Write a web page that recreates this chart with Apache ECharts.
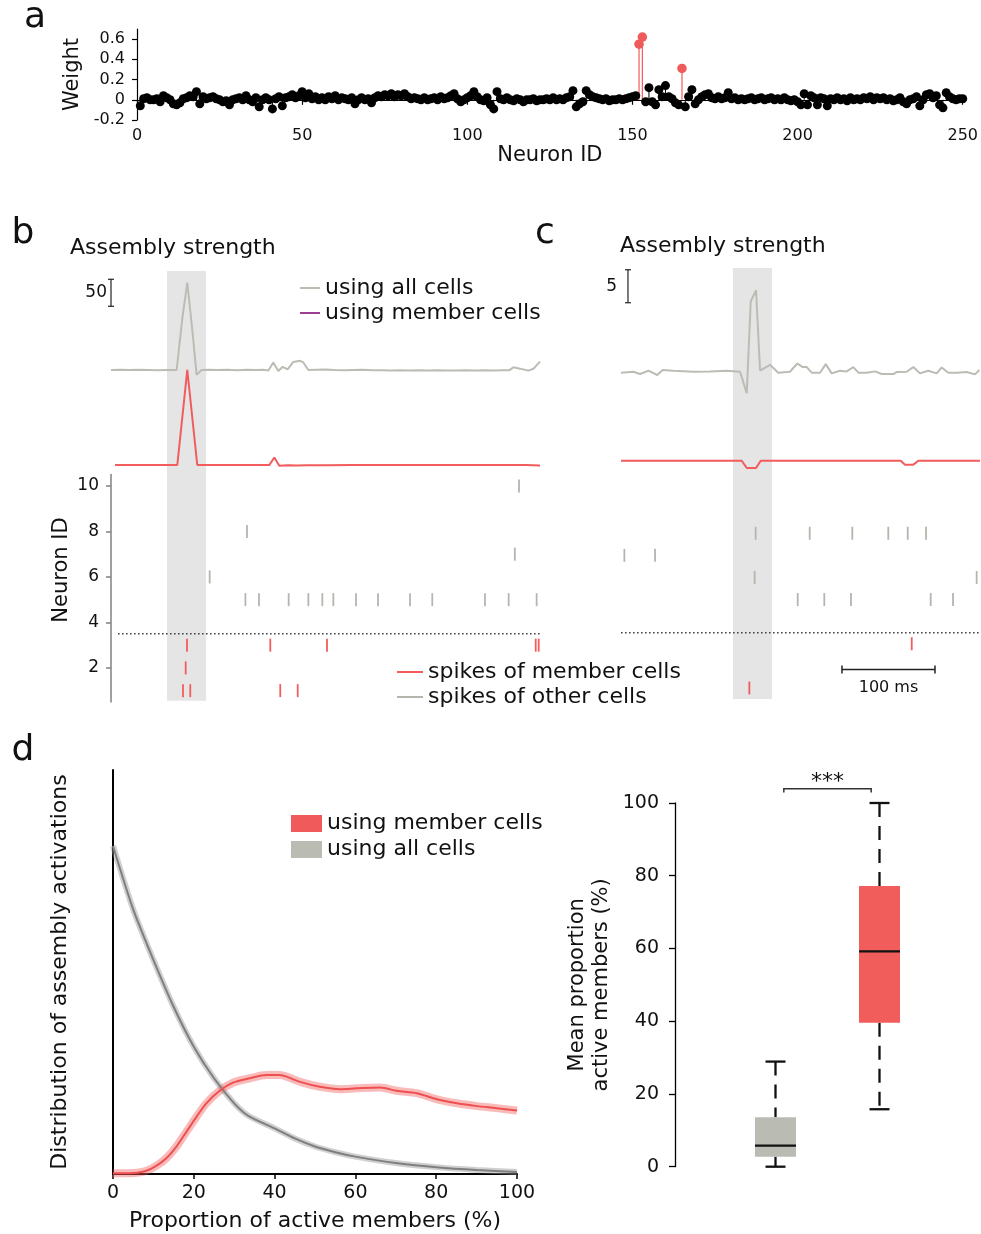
<!DOCTYPE html>
<html><head><meta charset="utf-8">
<script src="https://cdn.jsdelivr.net/npm/echarts@6/dist/echarts.min.js"></script>
<style>html,body{margin:0;padding:0;background:#fff}#c{width:981px;height:1234px}</style>
</head><body><div id="c"></div><script>
// ---------- DATA ----------
// Panel a: assembly weights for neurons 1..250
const neuronWeights = [
-0.06,0.01,0.02,0.0,0.0,0.01,-0.02,0.04,0.02,0.0,
-0.04,-0.05,-0.03,0.01,0.02,0.04,0.03,0.08,-0.04,0.03,
0.01,0.02,0.03,0.01,0.0,-0.02,-0.01,-0.05,0.0,0.01,
0.02,0.0,0.04,0.0,-0.02,0.02,-0.07,0.0,0.02,0.0,
-0.09,0.01,0.03,-0.06,0.02,0.03,0.05,0.02,0.04,0.08,
0.02,0.06,0.01,0.03,0.0,0.02,0.0,0.03,0.01,0.04,
0.0,0.02,0.01,0.0,0.02,-0.04,0.0,0.02,0.0,0.01,
-0.03,0.02,0.04,0.03,0.05,0.04,0.06,0.03,0.05,0.04,
0.06,0.03,0.01,0.02,0.01,0.0,0.02,0.0,0.01,0.02,
0.0,0.03,0.01,0.02,0.04,0.06,0.01,-0.02,0.0,0.02,
0.04,0.08,0.03,0.0,-0.01,0.02,-0.05,-0.09,0.08,0.01,
0.0,0.02,0.0,-0.01,0.01,0.0,-0.02,0.0,0.0,0.01,
-0.01,0.0,0.0,0.01,0.0,0.02,0.0,0.01,0.0,0.02,
0.03,0.09,-0.07,-0.04,-0.02,0.09,0.05,0.03,0.02,0.01,
0.0,0.01,-0.01,0.0,0.0,0.01,0.0,0.01,0.02,0.03,
0.04,0.55,0.62,-0.02,0.12,-0.02,-0.05,0.1,0.03,0.14,
0.03,0.01,-0.03,-0.05,0.31,-0.07,0.03,0.1,-0.04,0.0,
0.03,0.05,0.06,0.02,0.01,0.03,0.01,0.02,0.07,0.01,
0.02,0.0,0.01,0.0,0.01,0.02,0.0,0.01,0.02,0.0,
0.01,0.02,0.0,0.01,0.0,0.02,0.0,-0.01,0.0,-0.02,
-0.05,0.06,-0.05,0.04,0.02,-0.05,0.02,0.01,-0.06,0.01,
0.0,0.02,0.0,0.01,-0.01,0.02,0.0,0.01,0.0,0.02,
0.01,0.03,0.0,0.02,0.01,0.02,0.0,0.01,-0.01,0.0,
0.02,-0.02,-0.04,0.0,0.01,0.03,-0.06,0.0,0.05,0.06,
0.02,0.04,-0.05,-0.08,0.07,0.03,0.01,0.0,0.01,0.01
];
const memberNeurons = [152, 153, 165];
const weightTicks = [-0.2, 0, 0.2, 0.4, 0.6];

// Panel b: assembly strength traces (time ms, strength)
const bAllCells = [[0,0],[10,0.4],[20,-0.2],[30,0.3],[40,0],[50,-0.3],[60,0.2],[70.4,0],[76.5,96],[81.8,162],[87.2,74],[91.8,-9],[97.2,0],[105,0.5],[115,0],[125,0.6],[135,-0.3],[145,0.4],[155,0],[163,0.3],[168.7,-1],[174,14],[179.4,-2],[184.1,6],[189.4,1],[195.5,15],[202.7,17],[206.2,14],[211.6,0],[220,0.5],[230,1],[240,0],[250,-0.5],[260,0],[270,0.4],[280,-0.6],[290,-0.4],[300,-0.8],[310,-0.5],[320,-1],[330,-0.6],[340,-0.9],[350,-0.3],[360,-0.8],[370,-1],[380,-0.5],[390,-0.8],[400,-0.3],[410,-0.9],[420,-0.5],[427,-0.6],[431.4,4.9],[438.6,2.5],[447.5,-1.2],[452.9,2.2],[460,15.4]];
const bMemberCells = [[4.3,0],[30,0],[60,0],[71.1,0],[81.8,176],[92.5,0],[120,0],[150,0],[169.8,0],[175.1,14],[180.5,-1.2],[190,-0.6],[200,-1],[210,-0.6],[230,-0.3],[260,0],[300,0],[340,0],[380,0],[420,0],[445,0],[460,-1]];
const bSpikesOther = [[437.5,10],[145.8,8],[433,7],[105.8,6],[144.1,5],[158.7,5],[190.5,5],[211.6,5],[226.6,5],[238.4,5],[262.7,5],[286.3,5],[320.6,5],[344.5,5],[401,5],[426.4,5],[456.4,5]];
const bSpikesMember = [[81.5,3],[170.8,3],[231.6,3],[455.4,3],[458.6,3],[80.1,2],[77.2,1],[85,1],[181.5,1],[200.2,1]];
const bWindow = [60, 102];
const bScale = 50;

// Panel c
const cAllCells = [[0,0],[13.3,0.15],[20.4,-0.2],[29.4,0.3],[39,-0.35],[44.8,0.4],[56.3,0.3],[77.8,0.15],[95.7,0.2],[113.6,0.3],[128,0.15],[135.2,-3.1],[139.5,10.8],[145.2,12.5],[149.5,0.3],[160.2,1.2],[169.1,0],[181.7,0.15],[189.6,1.4],[195.4,0.85],[199.7,0.85],[205,0],[214,0],[220.1,1.3],[226.5,-0.1],[235.5,0.3],[242.7,0.2],[249.8,0.85],[255.2,0],[264.2,0],[273.1,0.2],[280.3,-0.2],[292.8,-0.2],[296.4,0.1],[307.1,0.15],[314.3,0.85],[321.5,-0.1],[330.4,0.3],[339.4,-0.1],[344.8,0.8],[351.9,0],[360.9,0],[371.7,0.1],[380.6,-0.25],[385.3,0.4]];
const cMemberCells = [[0,0],[60,0],[129.8,0],[135.2,-1.1],[145.2,-1.1],[150.2,0],[220,0],[300.8,0],[305.4,-0.6],[314.3,-0.6],[319.7,0],[386,0]];
const cSpikesOther = [[144.8,8],[202.9,8],[248.7,8],[287.4,8],[308.3,8],[328,8],[3.6,7],[36.6,7],[143.7,6],[382.4,6],[190,5],[218.6,5],[247.3,5],[333,5],[357,5]];
const cSpikesMember = [[312.6,3],[138,1]];
const cWindow = [120.4, 162.4];
const cScale = 5;
const timeScale = 100;
const rasterTicks = [2, 4, 6, 8, 10];
const memberBoundary = 3.5;

// Panel d left: distribution of proportion of active members
const dAllCells = [[0,0.812],[5,0.655],[10,0.530],[15,0.414],[20,0.315],[25,0.237],[30,0.175],[33.5,0.144],[40,0.113],[45,0.088],[50,0.068],[55,0.054],[60,0.043],[70,0.027],[80,0.017],[90,0.010],[100,0.005]];
const dMemberCells = [[0,0.002],[4,0.002],[6,0.003],[8.3,0.008],[10.7,0.020],[13.2,0.039],[15.7,0.068],[18.2,0.105],[20.7,0.142],[23.1,0.175],[26.4,0.206],[29.7,0.226],[33.9,0.237],[38,0.245],[41.3,0.245],[43,0.241],[46.3,0.228],[51.2,0.216],[56.2,0.210],[60.3,0.212],[66.1,0.214],[70.2,0.206],[75.2,0.200],[80.2,0.185],[85.1,0.175],[90.1,0.168],[95,0.163],[100,0.157]];
const proportionTicks = [0, 20, 40, 60, 80, 100];

// Panel d right: boxplot [min, q1, median, q3, max]
const boxGroups = ['using all cells', 'using member cells'];
const boxStats = [[0, 2.75, 5.8, 13.6, 28.9], [15.8, 39.6, 59.2, 77.2, 100]];
const significance = '***';

// ---------- STYLE ----------
const FONT = 'DejaVu Sans';
const RED = '#f25c5c', GRAY = '#bcbcb5', SPIKE_GRAY = '#b5b5ae', BOX_GRAY = '#babcb4', PURPLE = '#9c3d97';

const chart = echarts.init(document.getElementById('c'), null, {renderer: 'canvas'});

function hidden(gridIndex, min, max) {
  return {gridIndex, type: 'value', min, max, show: false, splitLine: {show: false}};
}
function scaleBarRenderer(gap, label) {
  return function (params, api) {
    const a = api.coord([api.value(0), api.value(1)]);
    const b = api.coord([api.value(0), api.value(2)]);
    const st = {stroke: '#222', lineWidth: 1.2};
    return {type: 'group', children: [
      {type: 'line', shape: {x1: a[0], y1: a[1], x2: b[0], y2: b[1]}, style: st},
      {type: 'line', shape: {x1: a[0] - 3, y1: a[1], x2: a[0] + 3, y2: a[1]}, style: st},
      {type: 'line', shape: {x1: b[0] - 3, y1: b[1], x2: b[0] + 3, y2: b[1]}, style: st},
      {type: 'text', x: a[0] - gap, y: (a[1] + b[1]) / 2, style: {text: label, fontSize: 17, fontFamily: FONT, fill: '#111', align: 'right', verticalAlign: 'middle'}}
    ]};
  };
}
function shadeRenderer(params, api) {
  const p0 = api.coord([api.value(0), api.value(3)]);
  const p1 = api.coord([api.value(1), api.value(2)]);
  return {type: 'rect', shape: {x: p0[0], y: p0[1], width: p1[0] - p0[0], height: p1[1] - p0[1]}, style: {fill: '#e5e5e5'}};
}

const nonMembers = [], members = [];
neuronWeights.forEach((v, i) => {
  const id = i + 1;
  (memberNeurons.includes(id) ? members : nonMembers).push([id, v]);
});

const boxData = boxStats.map((s, i) => [i + 1, ...s]);
const boxColors = [BOX_GRAY, '#f15d5a'];
const legendText = {fontSize: 22, lineHeight: 24, color: '#111', fontFamily: FONT};

const option = {
  animation: false,
  textStyle: {fontFamily: FONT, color: '#111'},
  title: [
    {text: 'Assembly strength', left: 70, top: 237, padding: 0, textStyle: {fontSize: 22, fontWeight: 'normal', color: '#111', fontFamily: FONT}},
    {text: 'Assembly strength', left: 620, top: 235, padding: 0, textStyle: {fontSize: 22, fontWeight: 'normal', color: '#111', fontFamily: FONT}}
  ],
  graphic: [
    {type: 'text', x: 35, y: 18, style: {text: 'a', fontSize: 36, fontFamily: FONT, fill: '#111', align: 'center', verticalAlign: 'middle'}},
    {type: 'text', x: 23, y: 234, style: {text: 'b', fontSize: 36, fontFamily: FONT, fill: '#111', align: 'center', verticalAlign: 'middle'}},
    {type: 'text', x: 545, y: 234, style: {text: 'c', fontSize: 36, fontFamily: FONT, fill: '#111', align: 'center', verticalAlign: 'middle'}},
    {type: 'text', x: 23, y: 751, style: {text: 'd', fontSize: 36, fontFamily: FONT, fill: '#111', align: 'center', verticalAlign: 'middle'}},
    {type: 'text', x: 62, y: 570, rotation: Math.PI / 2, style: {text: 'Neuron ID', fontSize: 21, fontFamily: FONT, fill: '#111', align: 'center', verticalAlign: 'middle'}}
  ],
  legend: [
    {left: 300, top: 276, padding: 0, orient: 'vertical', itemWidth: 20, itemHeight: 2, itemGap: 1, selectedMode: false,
     textStyle: legendText,
     data: [
       {name: 'using all cells', icon: 'rect', itemStyle: {color: GRAY, borderWidth: 0, borderColor: GRAY}},
       {name: 'using member cells', icon: 'rect', itemStyle: {color: PURPLE, borderWidth: 0, borderColor: PURPLE}}
     ]},
    {left: 397, top: 660, padding: 0, orient: 'vertical', itemWidth: 26, itemHeight: 2, itemGap: 1, selectedMode: false,
     textStyle: legendText,
     data: [
       {name: 'spikes of member cells', icon: 'rect', itemStyle: {color: RED, borderWidth: 0, borderColor: RED}},
       {name: 'spikes of other cells', icon: 'rect', itemStyle: {color: SPIKE_GRAY, borderWidth: 0, borderColor: SPIKE_GRAY}}
     ]},
    {left: 291, top: 811.5, padding: 0, orient: 'vertical', itemWidth: 31, itemHeight: 17, itemGap: 2, selectedMode: false,
     textStyle: legendText,
     data: [
       {name: 'using member cells', icon: 'rect', itemStyle: {color: '#f05a5a', borderWidth: 0, borderColor: '#f05a5a'}},
       {name: 'using all cells', icon: 'rect', itemStyle: {color: BOX_GRAY, borderWidth: 0, borderColor: BOX_GRAY}}
     ]}
  ],
  grid: [
    {left: 137, top: 29, width: 829, height: 91},          // 0 a
    {left: 111, top: 272.8, width: 429, height: 108},      // 1 b all
    {left: 111, top: 367.8, width: 429, height: 102.6},    // 2 b member
    {left: 111, top: 474.6, width: 429, height: 227.4},    // 3 b raster
    {left: 621, top: 267.1, width: 359, height: 132},      // 4 c all
    {left: 621, top: 440.9, width: 359, height: 39.6},     // 5 c member
    {left: 621, top: 478, width: 359, height: 221},        // 6 c raster
    {left: 113, top: 770, width: 404, height: 404},        // 7 d left
    {left: 671.5, top: 803, width: 291.2, height: 363.7}   // 8 d right
  ],
  xAxis: [
    {gridIndex: 0, type: 'value', min: 0, max: 250, interval: 50, name: 'Neuron ID', nameLocation: 'middle', nameGap: 24,
     nameTextStyle: {fontSize: 21, color: '#111'},
     axisLine: {lineStyle: {color: '#000', width: 1.2}}, axisTick: {length: 5, lineStyle: {color: '#000', width: 1.2}},
     axisLabel: {fontSize: 16, margin: 8, color: '#111'}, splitLine: {show: false}},
    hidden(1, 0, 460), hidden(2, 0, 460), hidden(3, 0, 460),
    hidden(4, 0, 386), hidden(5, 0, 386), hidden(6, 0, 386),
    {gridIndex: 7, type: 'value', min: 0, max: 100, interval: 20, name: 'Proportion of active members (%)', nameLocation: 'middle', nameGap: 36,
     nameTextStyle: {fontSize: 22, color: '#111'},
     axisLine: {lineStyle: {color: '#000', width: 2}}, axisTick: {length: 5, lineStyle: {color: '#000', width: 1.5}},
     axisLabel: {fontSize: 19, margin: 10, color: '#111'}, splitLine: {show: false}},
    hidden(8, 0, 2.8)
  ],
  yAxis: [
    {gridIndex: 0, type: 'value', min: -0.2, max: 0.7, name: 'Weight', nameLocation: 'middle', nameGap: 50,
     nameTextStyle: {fontSize: 21, color: '#111'},
     axisLine: {show: true, lineStyle: {color: '#000', width: 1.2}},
     axisTick: {show: true, length: 5, customValues: weightTicks, lineStyle: {color: '#000', width: 1.2}},
     axisLabel: {fontSize: 16, margin: 12, color: '#111', customValues: weightTicks, formatter: v => String(Math.round(v * 10) / 10)},
     splitLine: {show: false}},
    hidden(1, -20, 180), hidden(2, -10, 180),
    {gridIndex: 3, type: 'value', min: 0.5, max: 10.5,
     axisLine: {show: true, lineStyle: {color: '#808080', width: 1.5}},
     axisTick: {show: true, length: 5, customValues: rasterTicks, lineStyle: {color: '#808080', width: 1.5}},
     axisLabel: {fontSize: 17, margin: 12, color: '#111', customValues: rasterTicks},
     splitLine: {show: false}},
    hidden(4, -4, 16), hidden(5, -3, 3), hidden(6, 0.5, 10.5),
    {gridIndex: 7, type: 'value', min: 0, max: 1, name: 'Distribution of assembly activations', nameLocation: 'middle', nameGap: 42,
     nameTextStyle: {fontSize: 22, color: '#111'},
     axisLine: {show: true, lineStyle: {color: '#000', width: 2}}, axisTick: {show: false}, axisLabel: {show: false}, splitLine: {show: false}},
    {gridIndex: 8, type: 'value', min: 0, max: 100, interval: 20, offset: -3.5,
     name: 'Mean proportion\nactive members (%)', nameLocation: 'middle', nameGap: 61, nameRotate: 90,
     nameTextStyle: {fontSize: 21, lineHeight: 24, color: '#111'},
     axisLine: {show: true, lineStyle: {color: '#000', width: 1.3}}, axisTick: {show: true, length: 6, lineStyle: {color: '#000', width: 1.3}},
     axisLabel: {fontSize: 19, margin: 16, color: '#111'}, splitLine: {show: false}}
  ],
  series: [
    // ---- a ----
    {type: 'custom', xAxisIndex: 0, yAxisIndex: 0, data: nonMembers, z: 2, silent: true,
     renderItem: (p, api) => {
       const a = api.coord([api.value(0), 0]), b = api.coord([api.value(0), api.value(1)]);
       return {type: 'line', shape: {x1: a[0], y1: a[1], x2: b[0], y2: b[1]}, style: {stroke: '#000', lineWidth: 1}};
     }},
    {type: 'custom', xAxisIndex: 0, yAxisIndex: 0, data: members, z: 2, silent: true,
     renderItem: (p, api) => {
       const a = api.coord([api.value(0), 0]), b = api.coord([api.value(0), api.value(1)]);
       return {type: 'line', shape: {x1: a[0], y1: a[1], x2: b[0], y2: b[1]}, style: {stroke: RED, lineWidth: 1.2}};
     }},
    {type: 'scatter', xAxisIndex: 0, yAxisIndex: 0, data: nonMembers, symbolSize: 9, itemStyle: {color: '#000', opacity: 1}, z: 3},
    {type: 'scatter', xAxisIndex: 0, yAxisIndex: 0, data: members, symbolSize: 9.5, itemStyle: {color: '#ef5b5b', opacity: 1}, z: 4},
    // ---- b ----
    {type: 'custom', xAxisIndex: 3, yAxisIndex: 3, data: [[bWindow[0], bWindow[1], 0.55, 19.45]], renderItem: shadeRenderer, z: 0, silent: true},
    {name: 'using all cells', type: 'line', xAxisIndex: 1, yAxisIndex: 1, data: bAllCells, showSymbol: false, symbol: 'none', lineStyle: {color: GRAY, width: 2}, itemStyle: {color: GRAY}, z: 3},
    {name: 'using member cells', type: 'line', xAxisIndex: 2, yAxisIndex: 2, data: bMemberCells, showSymbol: false, symbol: 'none', lineStyle: {color: RED, width: 2}, itemStyle: {color: RED}, z: 3},
    {type: 'custom', xAxisIndex: 1, yAxisIndex: 1, data: [[0, 168 - bScale, 168]], renderItem: scaleBarRenderer(4, String(bScale)), z: 4, silent: true},
    {name: 'spikes of other cells', type: 'scatter', xAxisIndex: 3, yAxisIndex: 3, data: bSpikesOther, symbol: 'rect', symbolSize: [1.8, 13], itemStyle: {color: SPIKE_GRAY, opacity: 1}, z: 3},
    {name: 'spikes of member cells', type: 'scatter', xAxisIndex: 3, yAxisIndex: 3, data: bSpikesMember, symbol: 'rect', symbolSize: [1.8, 13], itemStyle: {color: RED, opacity: 1}, z: 3},
    {type: 'line', xAxisIndex: 3, yAxisIndex: 3, data: [[7.5, memberBoundary], [460, memberBoundary]], symbol: 'none', lineStyle: {color: '#444', width: 1.6, type: [1.6, 2.4]}, z: 3, silent: true},
    // ---- c ----
    {type: 'custom', xAxisIndex: 6, yAxisIndex: 6, data: [[cWindow[0], cWindow[1], 0.5, 20.0]], renderItem: shadeRenderer, z: 0, silent: true},
    {name: 'using all cells', type: 'line', xAxisIndex: 4, yAxisIndex: 4, data: cAllCells, showSymbol: false, symbol: 'none', lineStyle: {color: GRAY, width: 2}, itemStyle: {color: GRAY}, z: 3},
    {name: 'using member cells', type: 'line', xAxisIndex: 5, yAxisIndex: 5, data: cMemberCells, showSymbol: false, symbol: 'none', lineStyle: {color: RED, width: 2}, itemStyle: {color: RED}, z: 3},
    {type: 'custom', xAxisIndex: 4, yAxisIndex: 4, data: [[7.5, 15.6 - cScale, 15.6]], renderItem: scaleBarRenderer(11, String(cScale)), z: 4, silent: true},
    {name: 'spikes of other cells', type: 'scatter', xAxisIndex: 6, yAxisIndex: 6, data: cSpikesOther, symbol: 'rect', symbolSize: [1.8, 13], itemStyle: {color: SPIKE_GRAY, opacity: 1}, z: 3},
    {name: 'spikes of member cells', type: 'scatter', xAxisIndex: 6, yAxisIndex: 6, data: cSpikesMember, symbol: 'rect', symbolSize: [1.8, 13], itemStyle: {color: RED, opacity: 1}, z: 3},
    {type: 'line', xAxisIndex: 6, yAxisIndex: 6, data: [[0, memberBoundary], [386, memberBoundary]], symbol: 'none', lineStyle: {color: '#444', width: 1.6, type: [1.6, 2.4]}, z: 3, silent: true},
    {type: 'custom', xAxisIndex: 6, yAxisIndex: 6, data: [[237.6, 237.6 + timeScale, 1.84]], z: 4, silent: true,
     renderItem: (p, api) => {
       const a = api.coord([api.value(0), api.value(2)]), b = api.coord([api.value(1), api.value(2)]);
       const st = {stroke: '#222', lineWidth: 1.5};
       return {type: 'group', children: [
         {type: 'line', shape: {x1: a[0], y1: a[1], x2: b[0], y2: b[1]}, style: st},
         {type: 'line', shape: {x1: a[0], y1: a[1] - 4, x2: a[0], y2: a[1] + 4}, style: st},
         {type: 'line', shape: {x1: b[0], y1: b[1] - 4, x2: b[0], y2: b[1] + 4}, style: st},
         {type: 'text', x: (a[0] + b[0]) / 2, y: a[1] + 18, style: {text: timeScale + ' ms', fontSize: 16, fontFamily: FONT, fill: '#111', align: 'center', verticalAlign: 'middle'}}
       ]};
     }},
    // ---- d left ----
    {type: 'line', xAxisIndex: 7, yAxisIndex: 7, data: dAllCells, smooth: 0.25, symbol: 'none', lineStyle: {color: 'rgba(150,150,150,0.45)', width: 6}, z: 2, silent: true},
    {name: 'using all cells', type: 'line', xAxisIndex: 7, yAxisIndex: 7, data: dAllCells, smooth: 0.25, symbol: 'none', lineStyle: {color: '#7f7f7f', width: 2}, itemStyle: {color: '#7f7f7f'}, z: 3},
    {type: 'line', xAxisIndex: 7, yAxisIndex: 7, data: dMemberCells, smooth: 0.3, symbol: 'none', lineStyle: {color: 'rgba(240,90,90,0.42)', width: 8}, z: 2, silent: true},
    {name: 'using member cells', type: 'line', xAxisIndex: 7, yAxisIndex: 7, data: dMemberCells, smooth: 0.3, symbol: 'none', lineStyle: {color: '#ee5050', width: 2}, itemStyle: {color: '#ee5050'}, z: 3},
    // ---- d right ----
    {type: 'custom', xAxisIndex: 8, yAxisIndex: 8, data: boxData, z: 3, silent: true,
     renderItem: (params, api) => {
       const x = api.value(0), lo = api.value(1), q1 = api.value(2), med = api.value(3), q3 = api.value(4), hi = api.value(5);
       const hw = 0.197, cw = 0.096;
       const c = (a, b) => api.coord([a, b]);
       const dash = {stroke: '#111', lineWidth: 2.3, lineDash: [14, 9]};
       const solid = {stroke: '#111', lineWidth: 2.3};
       const pLo = c(x, lo), pQ1 = c(x, q1), pQ3 = c(x, q3), pHi = c(x, hi);
       const tl = c(x - hw, q3), br = c(x + hw, q1);
       const mL = c(x - hw, med), mR = c(x + hw, med);
       const cl1 = c(x - cw, lo), cr1 = c(x + cw, lo), cl2 = c(x - cw, hi), cr2 = c(x + cw, hi);
       return {type: 'group', children: [
         {type: 'line', shape: {x1: pHi[0], y1: pHi[1], x2: pQ3[0], y2: pQ3[1]}, style: dash},
         {type: 'line', shape: {x1: pQ1[0], y1: pQ1[1], x2: pLo[0], y2: pLo[1]}, style: dash},
         {type: 'line', shape: {x1: cl1[0], y1: cl1[1], x2: cr1[0], y2: cr1[1]}, style: solid},
         {type: 'line', shape: {x1: cl2[0], y1: cl2[1], x2: cr2[0], y2: cr2[1]}, style: solid},
         {type: 'rect', shape: {x: tl[0], y: tl[1], width: br[0] - tl[0], height: br[1] - tl[1]}, style: {fill: boxColors[params.dataIndex]}},
         {type: 'line', shape: {x1: mL[0], y1: mL[1], x2: mR[0], y2: mR[1]}, style: {stroke: '#111', lineWidth: 2.2}}
       ]};
     }},
    {type: 'custom', xAxisIndex: 8, yAxisIndex: 8, data: [[1.08, 1.92, 103.9, 102.9]], z: 3, silent: true, clip: false,
     renderItem: (p, api) => {
       const a = api.coord([api.value(0), api.value(2)]), b = api.coord([api.value(1), api.value(2)]);
       const a2 = api.coord([api.value(0), api.value(3)]), b2 = api.coord([api.value(1), api.value(3)]);
       const st = {stroke: '#333', lineWidth: 1.5, fill: 'none'};
       return {type: 'group', children: [
         {type: 'polyline', shape: {points: [[a2[0], a2[1]], [a[0], a[1]], [b[0], b[1]], [b2[0], b2[1]]]}, style: st},
         {type: 'text', x: (a[0] + b[0]) / 2, y: a[1] - 7, style: {text: significance, fontSize: 22, fontFamily: FONT, fill: '#111', align: 'center', verticalAlign: 'middle'}}
       ]};
     }}
  ]
};
chart.setOption(option);
</script></body></html>
